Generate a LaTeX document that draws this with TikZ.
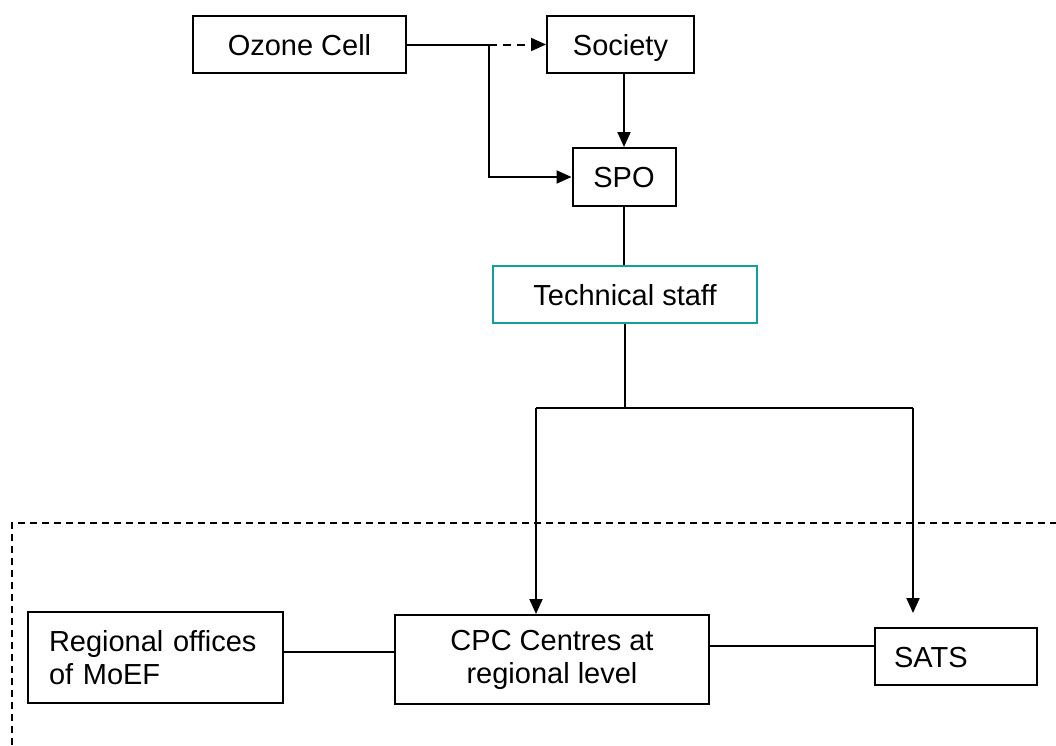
\documentclass[tikz,border=0pt]{standalone}
\usepackage{fontspec}
\setmainfont{Liberation Sans}
\usetikzlibrary{arrows.meta}
\definecolor{tealbox}{RGB}{20,158,158}
\tikzset{
  box/.style={draw=black, line width=2pt, fill=white, inner sep=0pt, font=\fontsize{29}{33}\selectfont},
  onel/.style={text height=21pt, text depth=0pt},
  conn/.style={line width=2pt, draw=black},
  arr/.style={conn, -{Triangle[length=15pt,width=13pt]}},
  dsh/.style={conn, dash pattern=on 8pt off 6pt}
}
\begin{document}
\begin{tikzpicture}[x=1pt,y=-1pt]
\useasboundingbox (0,0) rectangle (1056,745);
% nodes
\node[box, onel, minimum width=213pt, minimum height=57pt] (oz) at (299.5,44.5) {Ozone Cell};
\node[box, onel, minimum width=147pt, minimum height=57pt] (soc) at (620.5,44.5) {Society};
\node[box, onel, minimum width=103pt, minimum height=58pt] (spo) at (624,177) {SPO};
\node[box, onel, draw=tealbox, minimum width=264pt, minimum height=57pt] (tech) at (625,294.5) {Technical staff};
\node[box, minimum width=255pt, minimum height=91pt, align=left, text width=213pt] (reg) at (155.5,657.5) {Regional offices\\of MoEF};
\node[box, minimum width=314pt, minimum height=89pt, align=center] (cpc) at (552,659.5) {CPC Centres at\\regional level};
\node[box, onel, minimum width=162pt, minimum height=57pt, align=left, text width=124pt] (sats) at (956,656.5) {SATS};
% coordinates
\coordinate (j) at (489,44.5);
\coordinate (t) at (625,408);
\coordinate (bl) at (536,408);
\coordinate (br) at (913,408);
\coordinate (brt) at (913,613);
\coordinate (rl) at (0,652);
\coordinate (rr) at (0,646);
% connectors
\draw[conn] (oz.east) -- (j);
\draw[dsh, -{Triangle[length=15pt,width=13pt]}] (j) -- (soc.west);
\draw[arr] (j) |- (spo.west);
\draw[arr] (soc.south -| spo.north) -- (spo.north);
\draw[conn] (spo.south) -- (spo.south |- tech.north);
\draw[conn] (tech.south) -- (t);
\draw[conn] (bl) -- (br);
\draw[arr] (bl) -- (bl |- cpc.north);
\draw[arr] (br) -- (brt);
\draw[conn] (reg.east |- rl) -- (cpc.west |- rl);
\draw[conn] (cpc.east |- rr) -- (sats.west |- rr);
% dashed frame
\draw[conn, line width=1.4pt, dash pattern=on 7pt off 5pt] (12,745) -- (12,523) -- (1056,523);
\end{tikzpicture}
\end{document}
